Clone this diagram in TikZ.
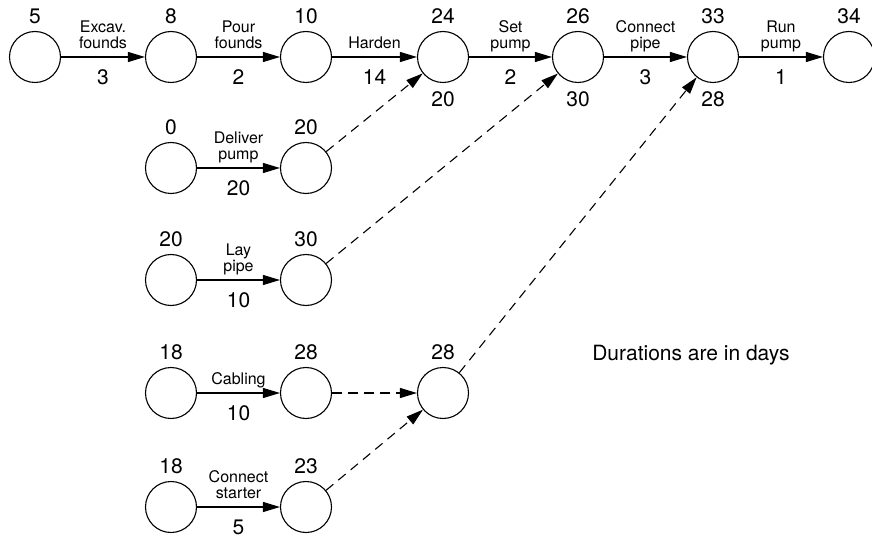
\documentclass[tikz,border=0pt]{standalone}
\usepackage{fontspec}
\setmainfont{TeX Gyre Heros}
\usetikzlibrary{arrows.meta,calc}
\begin{document}
\begin{tikzpicture}[x=1pt,y=-1pt,
  ev/.style={circle,draw,line width=1.1pt,minimum size=51pt,inner sep=0pt},
  num/.style={font=\fontsize{21}{24}\selectfont,inner sep=0pt},
  act/.style={font=\fontsize{16}{16.5}\selectfont,align=center,inner sep=0pt,anchor=south,text depth=0pt},
  arr/.style={line width=1.1pt,-{Triangle[length=17pt,width=10pt]}},
  dummy/.style={arr,dash pattern=on 9.5pt off 6.5pt}]
\useasboundingbox (0,0) rectangle (872,537);
% top row
\node[ev] (a1) at (35,57) {};
\node[ev] (a2) at (171,57) {};
\node[ev] (a3) at (306,57) {};
\node[ev] (a4) at (443,57) {};
\node[ev] (a5) at (578,57) {};
\node[ev] (a6) at (713,57) {};
\node[ev] (a7) at (849,57) {};
% lower rows
\node[ev] (b1) at (171,168) {};
\node[ev] (b2) at (306,168) {};
\node[ev] (c1) at (171,280) {};
\node[ev] (c2) at (306,280) {};
\node[ev] (d1) at (171,393) {};
\node[ev] (d2) at (306,393) {};
\node[ev] (d3) at (443,393) {};
\node[ev] (e1) at (171,507) {};
\node[ev] (e2) at (306,507) {};
% event numbers above
\foreach \n/\v in {a1/5,a2/8,a3/10,a4/24,a5/26,a6/33,a7/34,b1/0,b2/20,c1/20,c2/30,d1/18,d2/28,d3/28,e1/18,e2/23}
  \node[num] (t\n) at ([yshift=41pt]\n.center) {\v};
% numbers below
\node[num] (ua4) at ([yshift=-42pt]a4.center) {20};
\node[num] (ua5) at ([yshift=-42pt]a5.center) {30};
\node[num] (ua6) at ([yshift=-42pt]a6.center) {28};
% activities
\foreach \p/\q/\lab/\d in {a1/a2/{Excav.\\founds}/3,a2/a3/{Pour\\founds}/2,a3/a4/{Harden}/14,a4/a5/{Set\\pump}/2,a5/a6/{Connect\\pipe}/3,a6/a7/{Run\\pump}/1,b1/b2/{Deliver\\pump}/20,c1/c2/{Lay\\pipe}/10,d1/d2/{Cabling}/10,e1/e2/{Connect\\starter}/5}{
  \draw[arr] (\p) -- (\q);
  \node[act] (l\p) at ([yshift=8pt]$(\p.center)!0.5!(\q.center)$) {\lab};
  \node[num] (n\p) at ([yshift=-20pt]$(\p.center)!0.5!(\q.center)$) {\d};
}
% dummies
\draw[dummy] (b2) -- (a4);
\draw[dummy] (c2) -- (a5);
\draw[dummy] (d3) -- (a6);
\draw[dummy] (d2) -- (d3);
\draw[dummy] (e2) -- (d3);
\node[num] (note) at (691,355) {Durations are in days};
\end{tikzpicture}
\end{document}
